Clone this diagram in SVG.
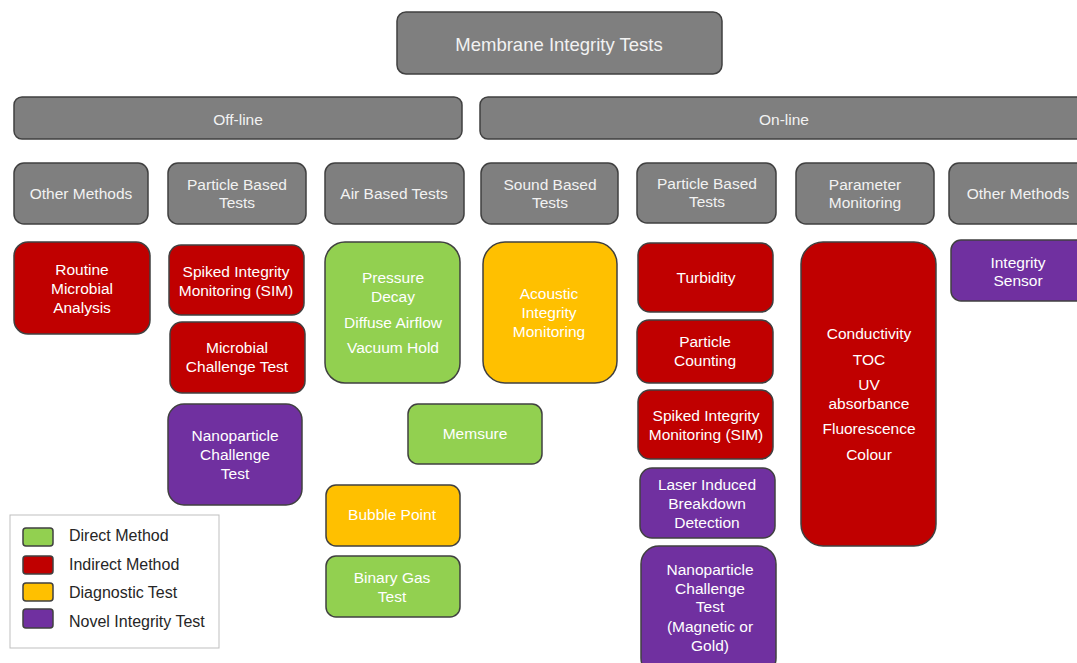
<svg xmlns="http://www.w3.org/2000/svg" width="1077" height="663" viewBox="0 0 1077 663">
  <style>
    text { font-family: "Liberation Sans", Arial, sans-serif; font-size: 15.5px; text-anchor: middle; }
    .box { stroke: #404040; stroke-width: 1.5; }
    .grey { fill: #7f7f7f; }
    .green { fill: #92d050; }
    .red { fill: #c00000; }
    .orange { fill: #ffc000; }
    .purple { fill: #7030a0; }
    .lt { fill: #f2f2f2; }
    .wt { fill: #ffffff; }
    .leg { fill: #262626; text-anchor: start; font-size: 16px; }
  </style>
  <rect width="1077" height="663" fill="#ffffff"/>

  <!-- top level -->
  <g id="root">
    <rect class="box grey" x="397" y="12" width="325" height="62" rx="9"/>
    <text class="lt" x="559" y="51" style="font-size:18.5px">Membrane Integrity Tests</text>
  </g>

  <!-- categories -->
  <g id="offline">
    <rect class="box grey" x="14" y="97" width="448" height="42" rx="8"/>
    <text class="lt" x="238" y="125">Off-line</text>
  </g>
  <g id="online">
    <rect class="box grey" x="480" y="97" width="612" height="42" rx="8"/>
    <text class="lt" x="784" y="125">On-line</text>
  </g>

  <!-- method groups -->
  <g id="off-other">
    <rect class="box grey" x="14" y="163" width="134" height="61" rx="10"/>
    <text class="lt" x="81" y="199">Other Methods</text>
  </g>
  <g id="off-particle">
    <rect class="box grey" x="168" y="163" width="138" height="61" rx="10"/>
    <text class="lt" x="237" y="190">Particle Based</text>
    <text class="lt" x="237" y="208">Tests</text>
  </g>
  <g id="off-air">
    <rect class="box grey" x="325" y="163" width="139" height="61" rx="10"/>
    <text class="lt" x="394" y="199">Air Based Tests</text>
  </g>
  <g id="on-sound">
    <rect class="box grey" x="481" y="163" width="137" height="61" rx="10"/>
    <text class="lt" x="550" y="190">Sound Based</text>
    <text class="lt" x="550" y="208">Tests</text>
  </g>
  <g id="on-particle">
    <rect class="box grey" x="637" y="163" width="139" height="60" rx="10"/>
    <text class="lt" x="707" y="189">Particle Based</text>
    <text class="lt" x="707" y="207">Tests</text>
  </g>
  <g id="on-parameter">
    <rect class="box grey" x="796" y="163" width="138" height="61" rx="10"/>
    <text class="lt" x="865" y="190">Parameter</text>
    <text class="lt" x="865" y="208">Monitoring</text>
  </g>
  <g id="on-other">
    <rect class="box grey" x="949" y="163" width="140" height="61" rx="10"/>
    <text class="lt" x="1018" y="199">Other Methods</text>
  </g>

  <!-- off-line tests -->
  <g id="routine-microbial">
    <rect class="box red" x="14" y="242" width="136" height="92" rx="14"/>
    <text class="wt" x="82" y="275">Routine</text>
    <text class="wt" x="82" y="294">Microbial</text>
    <text class="wt" x="82" y="313">Analysis</text>
  </g>
  <g id="sim-offline">
    <rect class="box red" x="169" y="245" width="135" height="70" rx="12"/>
    <text class="wt" x="236" y="277">Spiked Integrity</text>
    <text class="wt" x="236" y="296">Monitoring (SIM)</text>
  </g>
  <g id="microbial-challenge">
    <rect class="box red" x="170" y="322" width="135" height="71" rx="12"/>
    <text class="wt" x="237" y="353">Microbial</text>
    <text class="wt" x="237" y="372">Challenge Test</text>
  </g>
  <g id="nano-offline">
    <rect class="box purple" x="168" y="404" width="134" height="101" rx="16"/>
    <text class="wt" x="235" y="441">Nanoparticle</text>
    <text class="wt" x="235" y="460">Challenge</text>
    <text class="wt" x="235" y="479">Test</text>
  </g>
  <g id="pressure-decay">
    <rect class="box green" x="325" y="242" width="135" height="141" rx="20"/>
    <text class="wt" x="393" y="283">Pressure</text>
    <text class="wt" x="393" y="302">Decay</text>
    <text class="wt" x="393" y="328">Diffuse Airflow</text>
    <text class="wt" x="393" y="353">Vacuum Hold</text>
  </g>
  <g id="memsure">
    <rect class="box green" x="408" y="404" width="134" height="60" rx="10"/>
    <text class="wt" x="475" y="439">Memsure</text>
  </g>
  <g id="bubble-point">
    <rect class="box orange" x="326" y="485" width="134" height="61" rx="10"/>
    <text class="wt" x="392" y="520">Bubble Point</text>
  </g>
  <g id="binary-gas">
    <rect class="box green" x="326" y="556" width="134" height="61" rx="10"/>
    <text class="wt" x="392" y="583">Binary Gas</text>
    <text class="wt" x="392" y="602">Test</text>
  </g>

  <!-- on-line tests -->
  <g id="acoustic">
    <rect class="box orange" x="483" y="242" width="134" height="141" rx="22"/>
    <text class="wt" x="549" y="299">Acoustic</text>
    <text class="wt" x="549" y="318">Integrity</text>
    <text class="wt" x="549" y="337">Monitoring</text>
  </g>
  <g id="turbidity">
    <rect class="box red" x="638" y="243" width="135" height="69" rx="12"/>
    <text class="wt" x="706" y="283">Turbidity</text>
  </g>
  <g id="particle-counting">
    <rect class="box red" x="637" y="320" width="136" height="63" rx="12"/>
    <text class="wt" x="705" y="347">Particle</text>
    <text class="wt" x="705" y="366">Counting</text>
  </g>
  <g id="sim-online">
    <rect class="box red" x="638" y="390" width="135" height="69" rx="12"/>
    <text class="wt" x="706" y="421">Spiked Integrity</text>
    <text class="wt" x="706" y="440">Monitoring (SIM)</text>
  </g>
  <g id="laser-breakdown">
    <rect class="box purple" x="640" y="468" width="135" height="70" rx="12"/>
    <text class="wt" x="707" y="490">Laser Induced</text>
    <text class="wt" x="707" y="509">Breakdown</text>
    <text class="wt" x="707" y="528">Detection</text>
  </g>
  <g id="nano-online">
    <rect class="box purple" x="641" y="546" width="135" height="130" rx="18"/>
    <text class="wt" x="710" y="575">Nanoparticle</text>
    <text class="wt" x="710" y="594">Challenge</text>
    <text class="wt" x="710" y="612">Test</text>
    <text class="wt" x="710" y="632">(Magnetic or</text>
    <text class="wt" x="710" y="651">Gold)</text>
  </g>
  <g id="parameters">
    <rect class="box red" x="801" y="242" width="135" height="304" rx="22"/>
    <text class="wt" x="869" y="339">Conductivity</text>
    <text class="wt" x="869" y="365">TOC</text>
    <text class="wt" x="869" y="390">UV</text>
    <text class="wt" x="869" y="409">absorbance</text>
    <text class="wt" x="869" y="434">Fluorescence</text>
    <text class="wt" x="869" y="460">Colour</text>
  </g>
  <g id="integrity-sensor">
    <rect class="box purple" x="951" y="240" width="140" height="61" rx="10"/>
    <text class="wt" x="1018" y="268">Integrity</text>
    <text class="wt" x="1018" y="286">Sensor</text>
  </g>

  <!-- no connectors are drawn between the boxes -->
  <g id="connectors"/>

  <!-- key -->
  <g id="legend">
    <rect x="10" y="515" width="209" height="133" fill="#ffffff" stroke="#bfbfbf" stroke-width="1"/>
    <rect class="box green" x="23" y="528" width="30" height="18" rx="3"/>
    <rect class="box red" x="23" y="556" width="30" height="18" rx="3"/>
    <rect class="box orange" x="23" y="583" width="30" height="18" rx="3"/>
    <rect class="box purple" x="23" y="609" width="30" height="19" rx="3"/>
    <text class="leg" x="69" y="541">Direct Method</text>
    <text class="leg" x="69" y="570">Indirect Method</text>
    <text class="leg" x="69" y="598">Diagnostic Test</text>
    <text class="leg" x="69" y="627">Novel Integrity Test</text>
  </g>
</svg>
